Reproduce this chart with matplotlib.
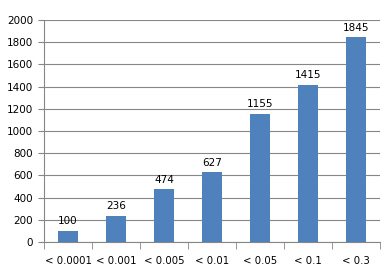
import matplotlib.pyplot as plt
import numpy as np

categories = ["< 0.0001", "< 0.001", "< 0.005", "< 0.01", "< 0.05", "< 0.1", "< 0.3"]
counts = [100, 236, 474, 627, 1155, 1415, 1845]

fig = plt.figure(figsize=(3.91, 2.73), dpi=100)
ax = fig.add_axes([44 / 391, 31 / 273, 336 / 391, 222 / 273])

x = np.arange(len(categories))
ax.bar(x, counts, width=0.4, color="#4F81BD", zorder=3)
for xi, v in zip(x, counts):
    ax.text(xi, v + 40, str(v), ha="center", va="bottom", fontsize=7.5, color="#000000")

ax.set_xlim(-0.5, len(categories) - 0.5)
ax.set_ylim(0, 2000)
ax.set_yticks(range(0, 2001, 200))
ax.yaxis.grid(True, color="#868686", linewidth=0.8, zorder=0)

# category labels centred, tick marks between categories
ax.set_xticks(x)
ax.set_xticklabels(categories, fontsize=7.3)
ax.set_xticks(np.arange(-0.5, len(categories)), minor=True)
ax.tick_params(axis="x", which="major", length=0, pad=10)
ax.tick_params(axis="x", which="minor", length=5, color="#868686")
ax.tick_params(axis="y", length=4, color="#868686", labelsize=7.5, pad=4)

for s in ["top", "right"]:
    ax.spines[s].set_visible(False)
for s in ["left", "bottom"]:
    ax.spines[s].set_color("#868686")
    ax.spines[s].set_linewidth(0.8)

fig.savefig("out.png", dpi=100)
